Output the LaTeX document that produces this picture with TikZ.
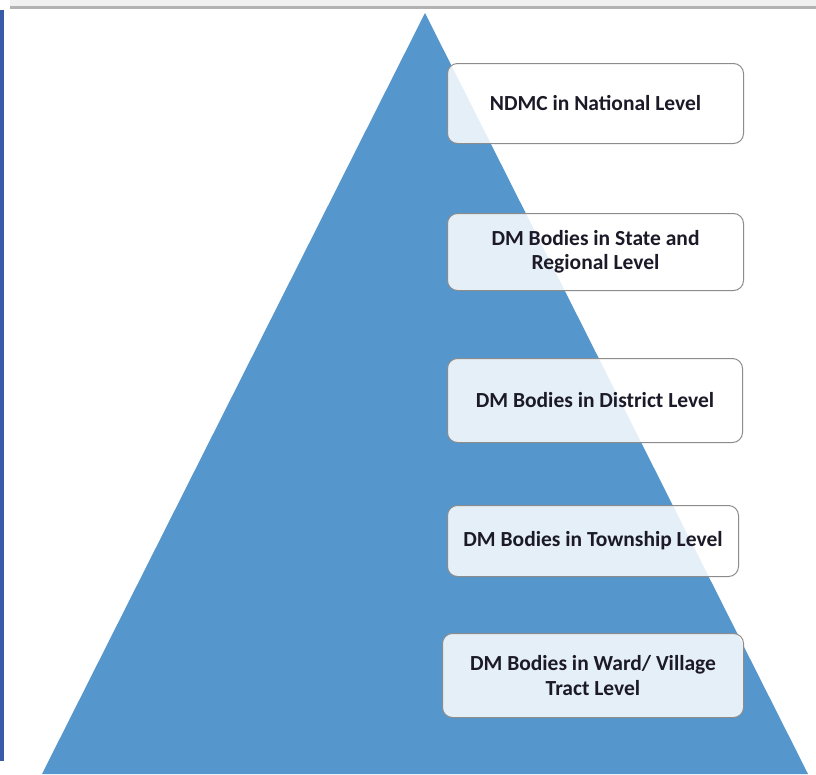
\documentclass[tikz,border=0pt]{standalone}
\usepackage{fontspec}
\setmainfont{Carlito}
\definecolor{pyr}{RGB}{85,151,205}
\definecolor{barblue}{RGB}{58,91,168}
\definecolor{boxline}{RGB}{140,140,140}
\definecolor{txt}{RGB}{28,26,40}
\tikzset{
  lvlbox/.style={draw=boxline, line width=1pt, rounded corners=10pt, fill=white, fill opacity=0.85, text opacity=1,
    text=txt, font=\bfseries\fontsize{21.5}{24.5}\selectfont, align=center, inner sep=0pt, anchor=north west}
}
\begin{document}
\begin{tikzpicture}[x=1pt,y=-1pt]
\useasboundingbox (0,0) rectangle (816,774);
\fill[white] (0,0) rectangle (816,774);
% top strip
\fill[gray!12] (10,0) rectangle (816,6);
\draw[gray!60, line width=2.5pt] (10,7.5) -- (816,7.5);
% left bar
\fill[barblue] (0,10) rectangle (3.5,761);
% pyramid
\fill[pyr] (425,13) -- (808,774) -- (42,774) -- cycle;
% boxes
\node[lvlbox, minimum width=296pt, minimum height=80pt] (b1) at (447,63) {NDMC in National Level};
\node[lvlbox, minimum width=296pt, minimum height=77pt] (b2) at (447,213) {DM Bodies in State and\\Regional Level};
\node[lvlbox, minimum width=295pt, minimum height=84pt] (b3) at (447,358) {DM Bodies in District Level};
\node[lvlbox, minimum width=291pt, minimum height=71pt] (b4) at (447,505) {DM Bodies in Township Level};
\node[lvlbox, minimum width=301pt, minimum height=84pt] (b5) at (442,633) {DM Bodies in Ward/ Village\\Tract Level};
\end{tikzpicture}
\end{document}
